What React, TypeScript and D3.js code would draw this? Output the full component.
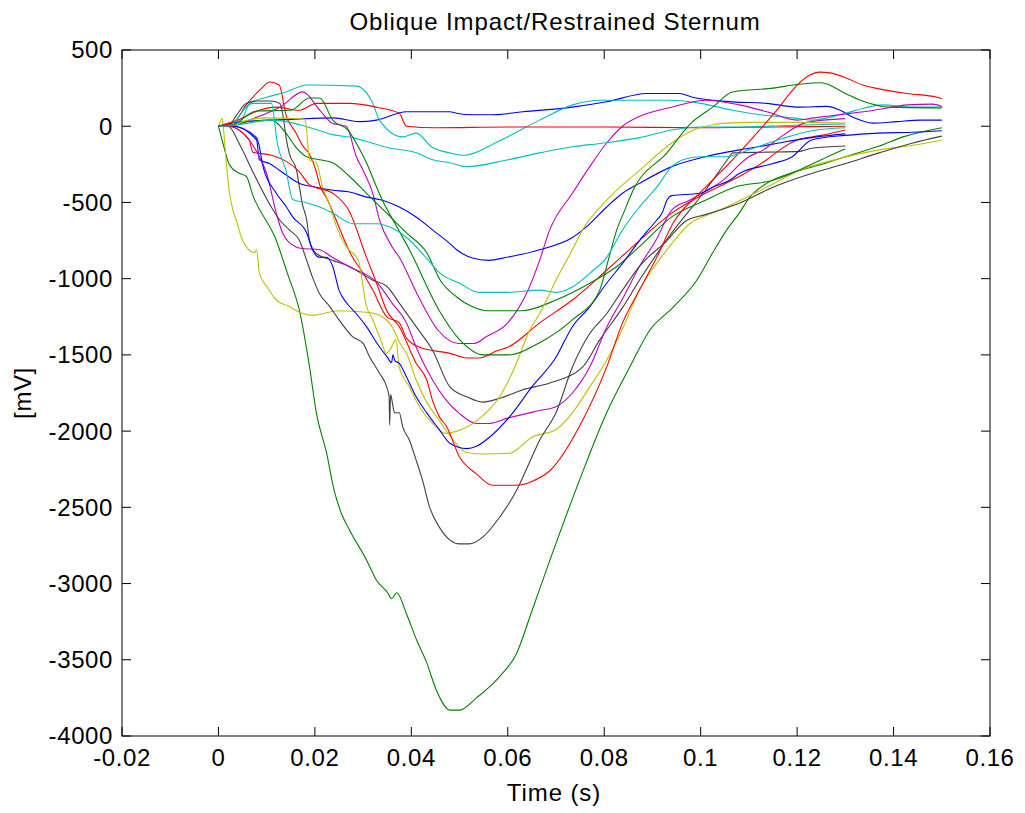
import React from 'react';
import * as d3 from 'd3';

const titleText = 'Oblique Impact/Restrained Sternum';
const xLabelText = 'Time (s)';
const yLabelText = '[mV]';
const xTicks = [-0.02, 0, 0.02, 0.04, 0.06, 0.08, 0.1, 0.12, 0.14, 0.16];
const xTickLabels = ['-0.02', '0', '0.02', '0.04', '0.06', '0.08', '0.1', '0.12', '0.14', '0.16'];
const yTicks = [500, 0, -500, -1000, -1500, -2000, -2500, -3000, -3500, -4000];
const yTickLabels = ['500', '0', '-500', '-1000', '-1500', '-2000', '-2500', '-3000', '-3500', '-4000'];

type P = [number, number];

const blueTop: P[] = [[0,0],[0.005,30],[0.0154,45],[0.0237,55],[0.0293,30],[0.0328,40],[0.039,95],[0.048,95],[0.0494,85],[0.0527,75],[0.057,75],[0.0631,95],[0.0734,125],[0.0805,160],[0.0888,215],[0.0956,215],[0.0983,190],[0.1066,160],[0.1137,150],[0.1205,125],[0.1262,130],[0.1289,105],[0.1315,60],[0.1357,20],[0.1407,30],[0.1455,40],[0.15,40]];
const greenDeep: P[] = [[0,0],[0.001,-120],[0.0023,-255],[0.0044,-310],[0.0058,-330],[0.0071,-450],[0.012,-750],[0.0143,-965],[0.0168,-1210],[0.0189,-1580],[0.0203,-1880],[0.0224,-2140],[0.024,-2390],[0.0255,-2540],[0.0272,-2650],[0.0307,-2845],[0.0328,-2980],[0.0351,-3060],[0.0359,-3100],[0.037,-3060],[0.039,-3200],[0.0411,-3370],[0.0432,-3520],[0.0452,-3700],[0.048,-3830],[0.05,-3830],[0.0535,-3750],[0.0583,-3610],[0.0618,-3460],[0.065,-3180],[0.0687,-2850],[0.0749,-2320],[0.0805,-1880],[0.0853,-1580],[0.0894,-1340],[0.0942,-1190],[0.0992,-1010],[0.1025,-830],[0.1054,-680],[0.108,-570],[0.1102,-465],[0.1137,-375],[0.1185,-310],[0.1262,-240],[0.13,-200],[0.137,-130],[0.142,-70],[0.15,-10]];
const redFive: P[] = [[0,0],[0.003,20],[0.006,150],[0.009,250],[0.0106,290],[0.0126,270],[0.014,75],[0.016,-40],[0.0174,-125],[0.019,-190],[0.0203,-300],[0.021,-385],[0.0224,-470],[0.0278,-860],[0.03,-965],[0.032,-1075],[0.0349,-1250],[0.0375,-1290],[0.039,-1390],[0.0417,-1450],[0.048,-1490],[0.0515,-1520],[0.054,-1520],[0.058,-1470],[0.06,-1450],[0.0666,-1290],[0.0734,-1140],[0.0805,-945],[0.0873,-750],[0.094,-570],[0.101,-440],[0.108,-330],[0.1137,-220],[0.1164,-155],[0.12,-90],[0.125,-60],[0.13,-25]];
const cyanHigh: P[] = [[0,0],[0.0044,20],[0.0065,150],[0.01,190],[0.0135,220],[0.0185,270],[0.0286,263],[0.032,150],[0.0334,40],[0.0382,-70],[0.041,-45],[0.0444,-140],[0.048,-175],[0.051,-190],[0.058,-100],[0.0666,40],[0.0735,140],[0.0792,170],[0.0935,170],[0.1,150],[0.1066,105],[0.1137,70],[0.119,55],[0.123,40],[0.13,85],[0.134,120],[0.1377,140],[0.1438,125],[0.15,125]];
const magentaA: P[] = [[0,0],[0.002,0],[0.008,60],[0.013,130],[0.0175,225],[0.021,105],[0.0236,20],[0.0265,0],[0.0286,-200],[0.03,-290],[0.032,-440],[0.0334,-615],[0.036,-790],[0.0375,-860],[0.0412,-1100],[0.0456,-1340],[0.0498,-1425],[0.053,-1425],[0.0556,-1380],[0.06,-1290],[0.0645,-1055],[0.0666,-880],[0.0687,-680],[0.0734,-440],[0.077,-265],[0.0805,-110],[0.0838,0],[0.087,60],[0.094,125],[0.101,170],[0.108,140],[0.1137,95],[0.12,40],[0.1235,55],[0.13,80],[0.136,105],[0.143,140],[0.148,145],[0.15,130]];
const yellowA: P[] = [[0,0],[0.0008,50],[0.001,0],[0.0017,-265],[0.0023,-440],[0.003,-550],[0.0037,-615],[0.005,-750],[0.0075,-830],[0.0079,-810],[0.0085,-965],[0.01,-1050],[0.012,-1140],[0.0145,-1180],[0.0168,-1220],[0.0195,-1240],[0.025,-1210],[0.0307,-1220],[0.0334,-1240],[0.036,-1315],[0.0376,-1420],[0.039,-1490],[0.041,-1665],[0.043,-1800],[0.0458,-1930],[0.048,-2030],[0.0515,-2140],[0.055,-2150],[0.0604,-2145],[0.065,-2040],[0.07,-1990],[0.0734,-1880],[0.077,-1710],[0.0805,-1535],[0.084,-1315],[0.0873,-1075],[0.0909,-900],[0.094,-770],[0.0977,-640],[0.1025,-570],[0.107,-505],[0.1137,-400],[0.1205,-290],[0.129,-210],[0.137,-155],[0.144,-125],[0.15,-90]];
const grayA: P[] = [[0,0],[0.002,0],[0.0037,70],[0.0058,150],[0.008,165],[0.0106,165],[0.0127,150],[0.0133,85],[0.0137,0],[0.0141,-90],[0.0147,-180],[0.0162,-290],[0.0168,-400],[0.0174,-510],[0.0183,-615],[0.0189,-750],[0.0203,-835],[0.0237,-880],[0.0272,-920],[0.032,-1010],[0.0349,-1050],[0.0375,-1160],[0.041,-1315],[0.0444,-1470],[0.048,-1710],[0.0515,-1775],[0.0548,-1810],[0.0583,-1785],[0.063,-1730],[0.0687,-1685],[0.0755,-1580],[0.079,-1405],[0.0838,-1190],[0.0873,-1010],[0.094,-700],[0.101,-420],[0.106,-200],[0.1066,-175],[0.1137,-170],[0.1205,-165],[0.123,-145],[0.13,-130]];
const blueMid: P[] = [[0,0],[0.003,0],[0.0079,-90],[0.0085,-220],[0.0106,-245],[0.0127,-290],[0.0168,-375],[0.0203,-400],[0.0237,-420],[0.027,-430],[0.0307,-465],[0.034,-485],[0.0375,-530],[0.041,-595],[0.0444,-680],[0.048,-770],[0.0494,-810],[0.0527,-865],[0.056,-880],[0.0598,-860],[0.0666,-810],[0.0734,-730],[0.077,-640],[0.0805,-530],[0.0838,-440],[0.0873,-375],[0.094,-265],[0.101,-200],[0.1054,-170],[0.108,-155],[0.111,-140],[0.118,-100],[0.124,-70],[0.13,-50]];
const greenMid: P[] = [[0,0],[0.002,0],[0.006,30],[0.011,40],[0.014,-45],[0.016,-135],[0.0183,-200],[0.021,-220],[0.0237,-240],[0.0272,-330],[0.0307,-440],[0.0349,-570],[0.039,-700],[0.0432,-830],[0.046,-1010],[0.0494,-1120],[0.0527,-1185],[0.0556,-1210],[0.063,-1210],[0.07,-1140],[0.077,-1030],[0.0826,-920],[0.0873,-790],[0.094,-595],[0.101,-485],[0.107,-400],[0.115,-355],[0.122,-265],[0.127,-190],[0.13,-150]];
const redTop: P[] = [[0,0],[0.004,40],[0.0085,105],[0.012,125],[0.0168,105],[0.0203,150],[0.0272,150],[0.0328,125],[0.0375,85],[0.039,0],[0.045,-10],[0.06,-5],[0.08,-5],[0.1,-10],[0.115,-5],[0.13,0]];
const cyanLow: P[] = [[0,0],[0.004,10],[0.011,40],[0.014,30],[0.018,0],[0.0237,-55],[0.0278,-75],[0.035,-140],[0.0412,-175],[0.0444,-220],[0.048,-240],[0.0515,-265],[0.06,-220],[0.0666,-175],[0.0734,-135],[0.08,-110],[0.0874,-75],[0.094,-25],[0.1,-5],[0.108,-5],[0.118,5],[0.13,15]];
const magentaB: P[] = [[0,0],[0.002,0],[0.0085,-200],[0.01,-310],[0.012,-570],[0.0133,-700],[0.016,-790],[0.017,-800],[0.021,-810],[0.0236,-860],[0.027,-920],[0.033,-1030],[0.036,-1160],[0.039,-1290],[0.041,-1450],[0.0444,-1665],[0.0473,-1800],[0.05,-1885],[0.0535,-1950],[0.056,-1950],[0.06,-1915],[0.0666,-1865],[0.07,-1840],[0.0734,-1750],[0.077,-1580],[0.0805,-1320],[0.084,-1120],[0.0873,-920],[0.0907,-750],[0.094,-550],[0.0977,-485],[0.1046,-355],[0.11,-200],[0.113,-155],[0.1164,-75],[0.122,25],[0.13,50]];
const yellowB: P[] = [[0,0],[0.002,0],[0.006,40],[0.01,55],[0.0168,50],[0.018,40],[0.0189,-220],[0.0203,-240],[0.0216,-400],[0.023,-510],[0.0245,-660],[0.0265,-790],[0.029,-880],[0.0307,-1180],[0.032,-1270],[0.0334,-1380],[0.0349,-1490],[0.0357,-1460],[0.0368,-1400],[0.0375,-1580],[0.0396,-1710],[0.0417,-1840],[0.0444,-1950],[0.047,-2015],[0.0495,-2000],[0.0548,-1900],[0.0583,-1775],[0.0618,-1555],[0.0645,-1340],[0.0666,-1230],[0.07,-1010],[0.0734,-810],[0.0755,-680],[0.0805,-485],[0.0873,-290],[0.094,-110],[0.0985,-25],[0.1025,10],[0.1054,20],[0.11,25],[0.12,25],[0.13,20]];
const grayB: P[] = [[0,0],[0.002,0],[0.0044,-120],[0.007,-290],[0.0106,-510],[0.0127,-615],[0.0147,-680],[0.0168,-750],[0.0183,-880],[0.0195,-990],[0.021,-1100],[0.023,-1180],[0.025,-1270],[0.0278,-1380],[0.03,-1425],[0.0313,-1510],[0.0334,-1620],[0.0349,-1710],[0.0354,-1775],[0.0355,-1960],[0.0357,-1760],[0.0361,-1820],[0.0365,-1880],[0.0375,-1880],[0.0382,-1970],[0.0396,-2060],[0.041,-2190],[0.0423,-2320],[0.0438,-2500],[0.0458,-2630],[0.048,-2715],[0.05,-2740],[0.052,-2740],[0.0548,-2695],[0.0583,-2565],[0.0618,-2390],[0.065,-2170],[0.0666,-2060],[0.07,-1880],[0.0734,-1580],[0.077,-1360],[0.0805,-1230],[0.0838,-1075],[0.0873,-920],[0.093,-750],[0.097,-620],[0.101,-580],[0.108,-505],[0.115,-400],[0.122,-320],[0.13,-245],[0.137,-175],[0.144,-110],[0.15,-65]];
const blueDeep: P[] = [[0,0],[0.003,0],[0.0079,-75],[0.0085,-135],[0.0091,-245],[0.012,-440],[0.0141,-530],[0.0154,-595],[0.0183,-700],[0.0195,-810],[0.021,-860],[0.0224,-860],[0.0237,-920],[0.025,-1075],[0.0266,-1160],[0.0286,-1230],[0.0307,-1315],[0.0328,-1420],[0.0349,-1510],[0.0359,-1550],[0.0362,-1500],[0.0366,-1540],[0.0375,-1555],[0.039,-1645],[0.041,-1775],[0.0432,-1880],[0.0458,-1990],[0.048,-2080],[0.0515,-2115],[0.0535,-2100],[0.0562,-2040],[0.0604,-1905],[0.065,-1710],[0.07,-1515],[0.0734,-1315],[0.077,-1185],[0.0805,-1030],[0.0838,-900],[0.0873,-750],[0.0909,-615],[0.092,-570],[0.093,-485],[0.094,-455],[0.0998,-440],[0.1025,-400],[0.106,-355],[0.108,-310],[0.115,-245],[0.119,-200],[0.123,-90],[0.13,-60],[0.137,-45],[0.144,-40],[0.15,-30]];
const greenHigh: P[] = [[0,0],[0.002,0],[0.008,100],[0.015,105],[0.0189,185],[0.021,185],[0.0237,40],[0.027,-30],[0.029,-135],[0.0307,-240],[0.0328,-400],[0.034,-485],[0.037,-660],[0.0396,-810],[0.0458,-1210],[0.05,-1400],[0.055,-1500],[0.06,-1500],[0.0666,-1420],[0.0734,-1270],[0.079,-1080],[0.081,-860],[0.0826,-680],[0.084,-570],[0.086,-420],[0.093,-175],[0.098,20],[0.1025,125],[0.1066,225],[0.115,250],[0.1205,275],[0.125,285],[0.13,215],[0.134,160],[0.139,125],[0.15,120]];
const redDeep: P[] = [[0,0],[0.002,0],[0.0064,-90],[0.0071,-170],[0.011,-190],[0.0168,-300],[0.0189,-385],[0.0237,-440],[0.027,-550],[0.0307,-860],[0.0328,-1030],[0.0349,-1210],[0.0375,-1315],[0.041,-1555],[0.0432,-1665],[0.0444,-1800],[0.0458,-1905],[0.0473,-1970],[0.05,-2170],[0.0535,-2280],[0.0568,-2355],[0.0618,-2355],[0.065,-2330],[0.0687,-2260],[0.0755,-1930],[0.0805,-1580],[0.0838,-1290],[0.0873,-1075],[0.0909,-860],[0.0942,-640],[0.1004,-420],[0.1066,-220],[0.1122,-25],[0.1158,105],[0.119,235],[0.12,270],[0.1226,335],[0.1247,355],[0.1268,350],[0.1303,315],[0.1336,270],[0.137,245],[0.1427,215],[0.149,190],[0.15,180]];
const cyanMid: P[] = [[0,0],[0.002,0],[0.007,150],[0.011,150],[0.0122,-110],[0.014,-290],[0.0154,-480],[0.018,-500],[0.021,-530],[0.0237,-570],[0.028,-640],[0.0328,-640],[0.0361,-670],[0.039,-730],[0.043,-860],[0.046,-965],[0.05,-1030],[0.054,-1090],[0.0598,-1090],[0.0666,-1075],[0.07,-1090],[0.0734,-1055],[0.077,-965],[0.0805,-860],[0.0838,-680],[0.0873,-530],[0.0909,-400],[0.094,-265],[0.0963,-220],[0.1,-200],[0.1054,-200],[0.11,-155],[0.117,-80],[0.123,-30],[0.13,-10]];

const MB = '#0000FF', MG = '#008000', MR = '#FF0000', MC = '#00BFBF', MM = '#BF00BF', MY = '#BFBF00', MK = '#404040';

const seriesList: { data: P[]; color: string }[] = [
  { data: blueTop, color: MB },
  { data: greenDeep, color: MG },
  { data: redFive, color: MR },
  { data: cyanHigh, color: MC },
  { data: magentaA, color: MM },
  { data: yellowA, color: MY },
  { data: grayA, color: MK },
  { data: blueMid, color: MB },
  { data: greenMid, color: MG },
  { data: redTop, color: MR },
  { data: cyanLow, color: MC },
  { data: magentaB, color: MM },
  { data: yellowB, color: MY },
  { data: grayB, color: MK },
  { data: blueDeep, color: MB },
  { data: greenHigh, color: MG },
  { data: redDeep, color: MR },
  { data: cyanMid, color: MC },
];

const W = 1025, H = 813;
const L = 122, R = 990, T = 50, B = 736;
const FONT = '"Liberation Sans", Arial, sans-serif';
const FS = 24;
const LS = 0.6;

export default function App() {
  const x = d3.scaleLinear().domain([-0.02, 0.16]).range([L, R]);
  const y = d3.scaleLinear().domain([-4000, 500]).range([B, T]);
  const line = d3.line<P>().x(d => x(d[0])).y(d => y(d[1])).curve(d3.curveMonotoneX);
  const tl = 9;
  return (
    <svg width={W} height={H} style={{ position: 'absolute', left: 0, top: 0, background: '#fff' }} fontFamily={FONT}>
      <rect x={0} y={0} width={W} height={H} fill="#fff" />
      <g>
        {seriesList.map((s, i) => (
          <path key={i} d={line(s.data) || ''} fill="none" stroke={s.color} strokeWidth={1.1} strokeLinejoin="round" />
        ))}
      </g>
      <rect x={L} y={T} width={R - L} height={B - T} fill="none" stroke="#000" strokeWidth={1} />
      {xTicks.map((t, i) => (
        <g key={'x' + i}>
          <line x1={x(t)} x2={x(t)} y1={B} y2={B - tl} stroke="#000" />
          <line x1={x(t)} x2={x(t)} y1={T} y2={T + tl} stroke="#000" />
          <text x={x(t)} y={766} textAnchor="middle" fontSize={FS} letterSpacing={LS}>{xTickLabels[i]}</text>
        </g>
      ))}
      {yTicks.map((v, i) => (
        <g key={'y' + i}>
          <line x1={L} x2={L + tl} y1={y(v)} y2={y(v)} stroke="#000" />
          <line x1={R} x2={R - tl} y1={y(v)} y2={y(v)} stroke="#000" />
          <text x={113} y={y(v)} dy="0.35em" textAnchor="end" fontSize={FS} letterSpacing={LS}>{yTickLabels[i]}</text>
        </g>
      ))}
      <text x={(L + R) / 2 - 1} y={30} textAnchor="middle" fontSize={FS} letterSpacing={0.9}>{titleText}</text>
      <text x={(L + R) / 2 - 2} y={801} textAnchor="middle" fontSize={FS} letterSpacing={0.9}>{xLabelText}</text>
      <text transform={`translate(31, ${(T + B) / 2}) rotate(-90)`} textAnchor="middle" fontSize={FS} letterSpacing={0.6}>{yLabelText}</text>
    </svg>
  );
}
